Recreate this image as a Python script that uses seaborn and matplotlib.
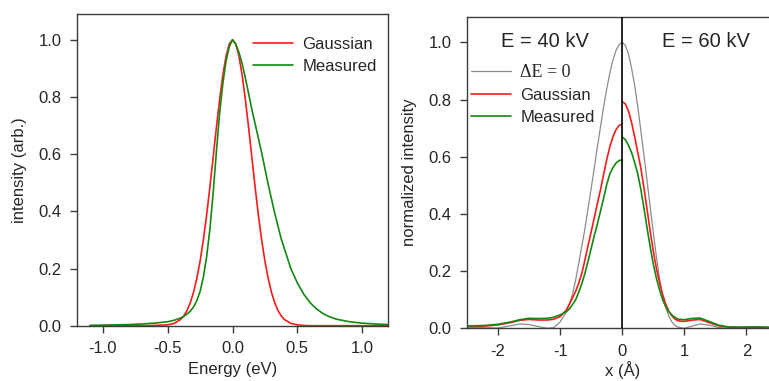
import numpy as np
import pandas as pd
import matplotlib
matplotlib.use("Agg")
import matplotlib.pyplot as plt
import seaborn as sns

sns.set_style("ticks")
plt.rcParams["font.family"] = ["Liberation Sans", "DejaVu Sans"]
plt.rcParams["font.size"] = 12
plt.rcParams["axes.unicode_minus"] = False

## left panel: energy spread of the source
energy = [-1.1, -1.0, -0.9, -0.8, -0.7, -0.6, -0.5, -0.45, -0.4, -0.375, -0.35, -0.325,
          -0.3, -0.275, -0.25, -0.225, -0.2, -0.175, -0.15, -0.125, -0.1, -0.075, -0.05, -0.025,
          0.0, 0.025, 0.05, 0.075, 0.1, 0.125, 0.15, 0.175, 0.2, 0.225, 0.25, 0.275, 0.3,
          0.325, 0.35, 0.375, 0.4, 0.45, 0.5, 0.55, 0.6, 0.65, 0.7, 0.75, 0.8, 0.9, 1.0, 1.1, 1.2]
gauss_spec = [0.0, 0.0, 0.0, 0.0, 0.0, 0.001, 0.003, 0.008, 0.022, 0.035, 0.054, 0.081,
              0.118, 0.166, 0.226, 0.300, 0.386, 0.483, 0.586, 0.690, 0.788, 0.875, 0.942, 0.985,
              1.0, 0.985, 0.942, 0.875, 0.788, 0.690, 0.586, 0.483, 0.386, 0.300, 0.226, 0.166, 0.118,
              0.081, 0.054, 0.035, 0.022, 0.008, 0.003, 0.001, 0.0, 0.0, 0.0, 0.0, 0.0, 0.0, 0.0, 0.0, 0.0]
meas_spec = [0.001, 0.002, 0.003, 0.004, 0.006, 0.009, 0.014, 0.019, 0.027, 0.033, 0.041, 0.051,
             0.066, 0.088, 0.12, 0.17, 0.24, 0.335, 0.46, 0.605, 0.74, 0.845, 0.925, 0.975,
             1.0, 0.985, 0.955, 0.915, 0.865, 0.81, 0.755, 0.705, 0.655, 0.605, 0.55, 0.495, 0.445,
             0.395, 0.35, 0.305, 0.27, 0.2, 0.15, 0.11, 0.08, 0.058, 0.042, 0.031, 0.023, 0.014, 0.009, 0.006, 0.004]

## right panel: probe profiles, x<0 half is 40 kV, x>0 half is 60 kV
x_40 = [-2.5, -2.2, -2.0, -1.8, -1.65, -1.5, -1.35, -1.2, -1.1, -1.0, -0.9, -0.85, -0.8, -0.75,
        -0.7, -0.65, -0.6, -0.55, -0.5, -0.45, -0.4, -0.35, -0.3, -0.25, -0.2, -0.15, -0.1, -0.05, 0.0]
ideal_40 = [0.004, 0.002, 0.001, 0.009, 0.015, 0.013, 0.006, 0.0, 0.003, 0.022, 0.058, 0.085, 0.12, 0.17,
            0.228, 0.288, 0.35, 0.42, 0.49, 0.562, 0.635, 0.705, 0.775, 0.837, 0.893, 0.938, 0.972, 0.993, 1.0]
gauss_40 = [0.006, 0.008, 0.012, 0.02, 0.028, 0.031, 0.029, 0.029, 0.032, 0.041, 0.064, 0.085, 0.107, 0.13,
            0.158, 0.193, 0.24, 0.29, 0.338, 0.387, 0.437, 0.485, 0.538, 0.59, 0.635, 0.67, 0.695, 0.71, 0.714]
meas_40 = [0.008, 0.01, 0.014, 0.022, 0.03, 0.035, 0.034, 0.035, 0.039, 0.047, 0.058, 0.068, 0.083, 0.1,
           0.127, 0.157, 0.193, 0.235, 0.28, 0.325, 0.365, 0.41, 0.455, 0.503, 0.54, 0.562, 0.578, 0.587, 0.589]

x_60 = [0.0, 0.05, 0.1, 0.15, 0.2, 0.25, 0.3, 0.35, 0.4, 0.45, 0.5, 0.55, 0.6, 0.65, 0.7, 0.75,
        0.8, 0.85, 0.9, 1.0, 1.1, 1.25, 1.4, 1.55, 1.7, 1.9, 2.1, 2.3, 2.5]
ideal_60 = [1.0, 0.99, 0.96, 0.91, 0.85, 0.775, 0.69, 0.605, 0.515, 0.425, 0.335, 0.25, 0.175, 0.115, 0.072, 0.042,
            0.022, 0.01, 0.004, 0.0, 0.006, 0.015, 0.011, 0.003, 0.0, 0.002, 0.003, 0.003, 0.002]
gauss_60 = [0.793, 0.785, 0.76, 0.72, 0.67, 0.615, 0.56, 0.49, 0.415, 0.34, 0.27, 0.21, 0.16, 0.118, 0.085, 0.06,
            0.043, 0.032, 0.026, 0.024, 0.028, 0.031, 0.02, 0.009, 0.004, 0.003, 0.004, 0.003, 0.002]
meas_60 = [0.669, 0.66, 0.64, 0.615, 0.58, 0.54, 0.485, 0.42, 0.35, 0.285, 0.225, 0.175, 0.135, 0.1, 0.076, 0.058,
           0.046, 0.038, 0.032, 0.03, 0.034, 0.036, 0.024, 0.011, 0.005, 0.004, 0.005, 0.004, 0.003]

red = "#ff1a1a"
green = "#128812"
grey = "#8c8c8c"
spine = "#3c3c3c"

W, H = 769, 381
fig = plt.figure(figsize=(W / 100, H / 100), dpi=100)
ax1 = fig.add_axes([77 / W, (H - 325.7) / H, 311 / W, 311.7 / H])
ax2 = fig.add_axes([467 / W, (H - 328.3) / H, 310.5 / W, 311.6 / H])

#left panel
sns.lineplot(x=energy, y=gauss_spec, color=red, lw=1.2, label="Gaussian", ax=ax1)
sns.lineplot(x=energy, y=meas_spec, color=green, lw=1.2, label="Measured", ax=ax1)
ax1.set_xlim(-1.2, 1.2)
ax1.set_ylim(0, 1.09)
ax1.set_xticks([-1.0, -0.5, 0.0, 0.5, 1.0])
ax1.set_yticks([0.0, 0.2, 0.4, 0.6, 0.8, 1.0])
ax1.xaxis.set_major_formatter(matplotlib.ticker.FormatStrFormatter("%.1f"))
ax1.yaxis.set_major_formatter(matplotlib.ticker.FormatStrFormatter("%.1f"))
ax1.set_xlabel("Energy (eV)", labelpad=4)
ax1.set_ylabel("intensity (arb.)", labelpad=8)
ax1.legend(loc="upper left", bbox_to_anchor=(0.566, 0.926), frameon=False, borderaxespad=0,
           handlelength=2.4, handletextpad=0.55, labelspacing=0.42, borderpad=0)

#right panel, two halves per curve
halves = [(x_40, ideal_40, gauss_40, meas_40), (x_60, ideal_60, gauss_60, meas_60)]
for i, (xx, ideal, gs, ms) in enumerate(halves):
    sns.lineplot(x=xx, y=ideal, color=grey, lw=0.9, ax=ax2, label="ΔE = 0" if i == 0 else None)
    sns.lineplot(x=xx, y=gs, color=red, lw=1.2, ax=ax2, label="Gaussian" if i == 0 else None)
    sns.lineplot(x=xx, y=ms, color=green, lw=1.2, ax=ax2, label="Measured" if i == 0 else None)
ax2.axvline(0, color="black", lw=1.2, zorder=5)
ax2.set_xlim(-2.5, 2.5)
ax2.set_ylim(0, 1.09)
ax2.set_xticks([-2, -1, 0, 1, 2])
ax2.set_yticks([0.0, 0.2, 0.4, 0.6, 0.8, 1.0])
ax2.yaxis.set_major_formatter(matplotlib.ticker.FormatStrFormatter("%.1f"))
ax2.set_xlabel("x (Å)", labelpad=2)
ax2.set_ylabel("normalized intensity", labelpad=8)
ax2.text(-1.245, 1.003, "E = 40 kV", fontsize=14.5, ha="center", va="center")
ax2.text(1.35, 1.003, "E = 60 kV", fontsize=14.5, ha="center", va="center")
leg = ax2.legend(loc="upper left", bbox_to_anchor=(0.013, 0.848), frameon=False, borderaxespad=0,
                 handlelength=2.4, handletextpad=0.55, labelspacing=0.42, borderpad=0)
leg.get_texts()[0].set_fontfamily("Liberation Serif")
leg.get_texts()[0].set_fontsize(13)

for ax in (ax1, ax2):
    for s in ax.spines.values():
        s.set_color(spine)
        s.set_linewidth(1.0)
    ax.tick_params(direction="out", length=5, width=1.0, color=spine, labelsize=12, pad=6)

fig.savefig("out.png", dpi=100)
